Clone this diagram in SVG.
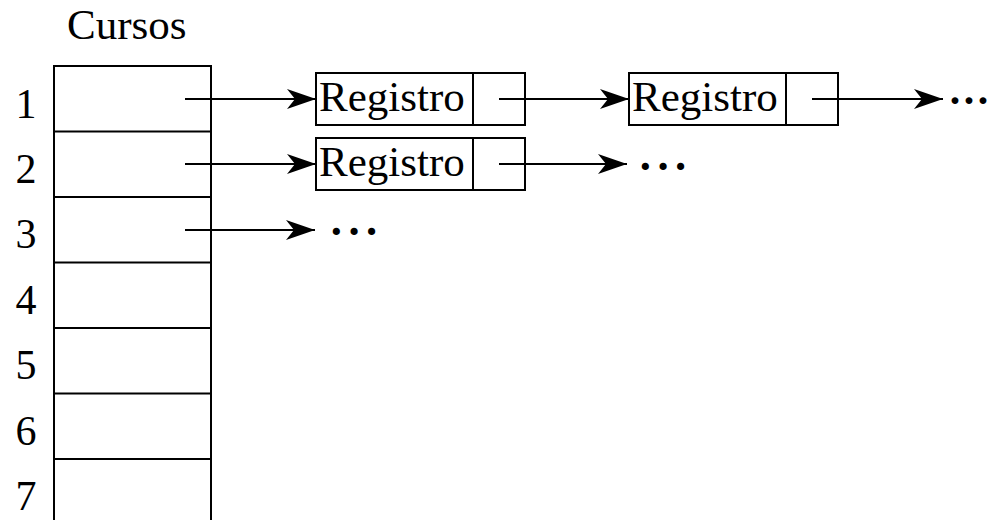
<svg xmlns="http://www.w3.org/2000/svg" width="987" height="520" viewBox="0 0 987 520">
<style>
.t{font-family:"Liberation Serif","Times New Roman",serif;fill:#000}
.b{fill:#fff;stroke:#000;stroke-width:2}
.l{stroke:#000;stroke-width:2;fill:none}
.n{font-size:42px;text-anchor:middle}
.r{font-size:43px}
.d{font-size:44px;font-weight:bold;letter-spacing:3px}
.e{font-size:42px;letter-spacing:0px}
</style>
<defs>
<marker id="ah" markerUnits="userSpaceOnUse" markerWidth="32" markerHeight="22" viewBox="-30 -11 32 22" refX="0" refY="0" orient="auto">
<path d="M0,0 L-29,-10 L-21,0 L-29,10 Z" fill="#000"/>
</marker>
</defs>
<rect width="987" height="520" fill="#fff"/>
<text class="t" x="67" y="39" font-size="43">Cursos</text>
<g id="table">
<rect class="b" x="54" y="66" width="157" height="470"/>
<line class="l" x1="54" y1="131.5" x2="211" y2="131.5"/>
<line class="l" x1="54" y1="197" x2="211" y2="197"/>
<line class="l" x1="54" y1="262.5" x2="211" y2="262.5"/>
<line class="l" x1="54" y1="328" x2="211" y2="328"/>
<line class="l" x1="54" y1="393.5" x2="211" y2="393.5"/>
<line class="l" x1="54" y1="459" x2="211" y2="459"/>
<text class="t n" x="26" y="118">1</text>
<text class="t n" x="26" y="183">2</text>
<text class="t n" x="26" y="248">3</text>
<text class="t n" x="26" y="314">4</text>
<text class="t n" x="26" y="379">5</text>
<text class="t n" x="26" y="445">6</text>
<text class="t n" x="26" y="510">7</text>
</g>
<g id="reg1">
<rect class="b" x="316" y="73" width="209" height="52"/>
<line class="l" x1="473" y1="73" x2="473" y2="125"/>
<text class="t r" x="319" y="111">Registro</text>
</g>
<g id="reg2">
<rect class="b" x="316" y="138" width="209" height="52"/>
<line class="l" x1="473" y1="138" x2="473" y2="190"/>
<text class="t r" x="319" y="176">Registro</text>
</g>
<g id="reg3">
<rect class="b" x="629" y="73" width="209" height="52"/>
<line class="l" x1="786" y1="73" x2="786" y2="125"/>
<text class="t r" x="632" y="111">Registro</text>
</g>
<g id="ellipses">
<text class="t d e" x="948" y="115">···</text>
<text class="t d" x="638" y="181">···</text>
<text class="t d" x="329" y="246">···</text>
</g>
<g id="connectors">
<line class="l" x1="185" y1="99" x2="316" y2="99" marker-end="url(#ah)"/>
<line class="l" x1="185" y1="164" x2="316" y2="164" marker-end="url(#ah)"/>
<line class="l" x1="185" y1="230" x2="315" y2="230" marker-end="url(#ah)"/>
<line class="l" x1="499" y1="99" x2="629" y2="99" marker-end="url(#ah)"/>
<line class="l" x1="499" y1="164" x2="627" y2="164" marker-end="url(#ah)"/>
<line class="l" x1="812" y1="99" x2="943" y2="99" marker-end="url(#ah)"/>
</g>
</svg>
